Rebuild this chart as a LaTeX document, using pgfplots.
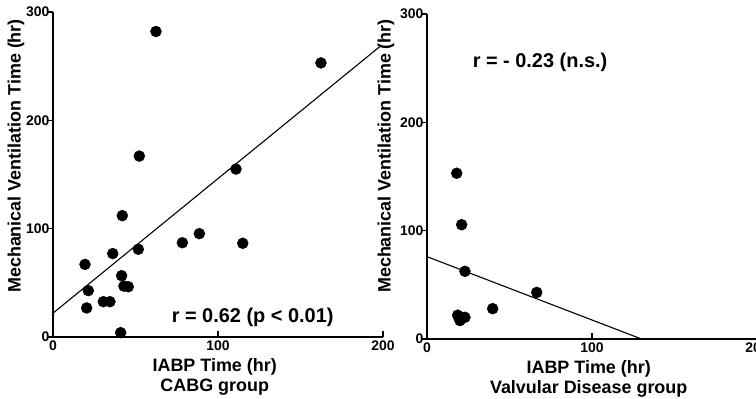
\documentclass[border=0pt]{standalone}
\usepackage{fontspec}
\setmainfont{Liberation Sans}
\usepackage{pgfplots}
\pgfplotsset{compat=1.18}
\pgfplotsset{
 myax/.style={
  scale only axis, width=330bp, height=325bp,
  xmin=0,xmax=200,ymin=0,ymax=300,
  axis x line=bottom, axis y line=left,
  axis line style={-, line width=1.8bp},
  xtick={0,100,200}, ytick={0,100,200,300},
  tick align=inside, major tick length=6bp,
  tick style={line width=1.4bp, black},
  y tick style={xshift=-6bp},
  /pgf/number format/assume math mode=true,
  tick label style={font=\fontsize{14}{14}\selectfont\bfseries},
  label style={font=\fontsize{18}{20}\selectfont\bfseries},
  xlabel style={align=center, anchor=north, at={(axis description cs:0.49,-0.055)}},
  ylabel style={anchor=center},
  clip=false,
 }
}
\begin{document}
\begin{tikzpicture}
\useasboundingbox (0,0) rectangle (756bp,399bp);
\begin{axis}[myax, at={(53bp,62bp)}, anchor=south west,
  xlabel={IABP Time (hr)\\CABG group},
  ylabel={Mechanical Ventilation Time (hr)},
  ylabel style={at={(axis description cs:-0.112,0.557)}}]
\addplot[only marks, mark=*, mark size=5.5bp, black] coordinates {
(62.4,282) (162.4,253) (52.3,167) (110.9,155) (42,112) (88.7,95.4)
(78.4,87) (115,86.5) (51.7,81) (36.2,77) (19.4,67) (41.6,56.6)
(21.4,42.8) (43,47) (45.6,46.4) (20.4,26.8) (30.5,32.6) (34.5,32.6) (41,4)
};
\addplot[black, line width=1.1bp, mark=none] coordinates {(0,22) (198,268)};
\node[font=\fontsize{20}{20}\selectfont\bfseries] at (axis cs:121,18.5) {r = 0.62 (p < 0.01)};
\end{axis}
\begin{axis}[myax, at={(427bp,60bp)}, anchor=south west,
  xlabel={IABP Time (hr)\\Valvular Disease group},
  ylabel={Mechanical Ventilation Time (hr)},
  ylabel style={at={(axis description cs:-0.124,0.563)}}]
\addplot[only marks, mark=*, mark size=5.5bp, black] coordinates {
(18,153) (21,105.5) (23,62.5) (66.5,43) (39.8,28) (19,21) (23,20) (20,17) (18.6,22)
};
\addplot[black, line width=1.1bp, mark=none] coordinates {(0,76) (130,0)};
\node[font=\fontsize{20}{20}\selectfont\bfseries] at (axis cs:68.5,255) {r = - 0.23 (n.s.)};
\end{axis}
\end{tikzpicture}
\end{document}
